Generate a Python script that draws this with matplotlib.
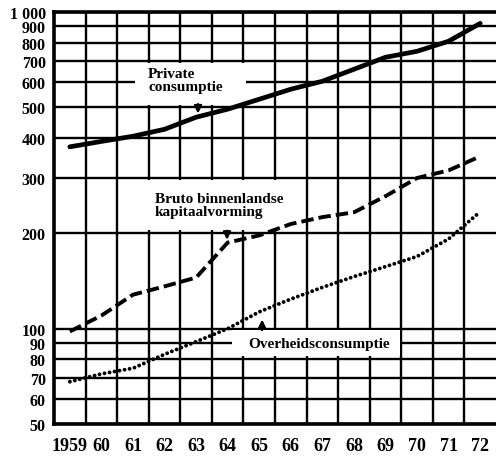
import numpy as np
import matplotlib.pyplot as plt
from matplotlib.patches import Rectangle

plt.rcParams['font.family'] = ['Liberation Serif', 'DejaVu Serif']

# jaarcijfers, logaritmische schaal
jaren = ['1959', '60', '61', '62', '63', '64', '65', '66', '67', '68', '69', '70', '71', '72']
private_consumptie = [375, 390, 405, 426, 465, 493, 530, 570, 604, 659, 719, 751, 808, 920]
kapitaalvorming = [98, 110, 128, 136, 145, 187, 197, 214, 225, 233, 262, 299, 316, 350]
overheidsconsumptie = [68, 72, 75, 83, 91, 100, 113, 124, 135, 146, 157, 169, 192, 234]

y_ticks = [50, 60, 70, 80, 90, 100, 200, 300, 400, 500, 600, 700, 800, 900, 1000]
y_labels = ['50', '60', '70', '80', '90', '100', '200', '300', '400', '500',
            '600', '700', '800', '900', '1 000']

fig = plt.figure(figsize=(4.96, 4.6), dpi=100)
ax = fig.add_axes([0.109, 0.076, 0.891, 0.896])
ax.set_yscale('log')
ax.set_ylim(50, 1000)
ax.set_xlim(-0.5, len(jaren) - 0.5)

x = np.arange(len(jaren))

# raster: verticale lijnen tussen de jaren, horizontale op de schaalwaarden
for xv in np.arange(0.5, len(jaren) - 0.5):
    ax.axvline(xv, color='black', lw=1.7, zorder=1)
for yv in y_ticks:
    ax.axhline(yv, color='black', lw=1.7, zorder=1)

ax.set_yticks(y_ticks)
ax.set_yticklabels(y_labels)
ax.yaxis.set_minor_locator(plt.NullLocator())
ax.set_xticks(x)
ax.set_xticklabels(jaren)
ax.tick_params(axis='both', length=0)
ax.tick_params(axis='y', pad=6, labelsize=11.5)
ax.tick_params(axis='x', pad=9, labelsize=13)
for lab in ax.get_xticklabels() + ax.get_yticklabels():
    lab.set_fontweight('bold')

for side in ['left', 'bottom', 'top']:
    ax.spines[side].set_linewidth(2.6)
ax.spines['right'].set_visible(False)

# witte vlakken achter de teksten
for x0, x1, y0, y1 in [(2.07, 5.58, 510, 690), (2.45, 7.45, 205, 295), (5.14, 10.45, 82, 99)]:
    ax.add_patch(Rectangle((x0, y0), x1 - x0, y1 - y0, facecolor='white',
                           edgecolor='none', zorder=2))

ax.plot(x, private_consumptie, color='black', lw=3.4, solid_capstyle='round', zorder=4)
ax.plot(x, kapitaalvorming, color='black', lw=2.8, linestyle=(0, (3.2, 1.3)), zorder=4)
ax.plot(x, overheidsconsumptie, color='black', lw=2.8, linestyle=(0, (0.01, 1.3)),
        dash_capstyle='round', zorder=4)

tekst = dict(fontsize=11, fontweight='bold', zorder=5, linespacing=1.0)
ax.text(2.48, 668, 'Private\nconsumptie', va='top', ha='left', **tekst)
ax.text(2.7, 270, 'Bruto binnenlandse\nkapitaalvorming', va='top', ha='left', **tekst)
ax.text(5.66, 89.5, 'Overheidsconsumptie', va='center', ha='left', **tekst)

pijl = dict(arrowstyle='-|>', color='black', lw=1.6, mutation_scale=11)
ax.annotate('', xy=(4.06, 468), xytext=(4.06, 522), arrowprops=pijl, zorder=5)
ax.annotate('', xy=(4.98, 187), xytext=(4.98, 208), arrowprops=pijl, zorder=5)
ax.annotate('', xy=(6.09, 109), xytext=(6.09, 97), arrowprops=pijl, zorder=5)

fig.savefig('out.png', dpi=100)
